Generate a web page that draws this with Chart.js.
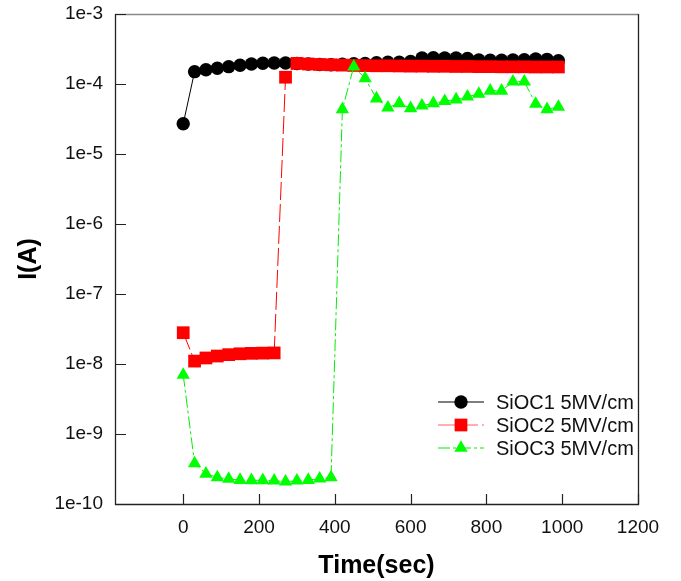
<!DOCTYPE html>
<html>
<head>
<meta charset="utf-8">
<script src="https://cdn.jsdelivr.net/npm/chart.js@4.4.1/dist/chart.umd.min.js"></script>
<style>
html,body{margin:0;padding:0;background:#fff;}
#wrap{width:681px;height:581px;position:relative;}
</style>
</head>
<body>
<div id="wrap"><canvas id="c" width="681" height="581"></canvas></div>
<script>
const times = [0,30,60,90,120,150,180,210,240,270,300,330,360,390,420,450,480,510,540,570,600,630,660,690,720,750,780,810,840,870,900,930,960,990];
const sioc1 = [2.7e-5,1.5e-4,1.6e-4,1.68e-4,1.77e-4,1.85e-4,1.93e-4,1.98e-4,2.0e-4,2.0e-4,1.96e-4,1.93e-4,1.9e-4,1.88e-4,1.92e-4,1.95e-4,1.97e-4,2.02e-4,2.05e-4,2.05e-4,2.1e-4,2.35e-4,2.38e-4,2.35e-4,2.35e-4,2.32e-4,2.2e-4,2.18e-4,2.18e-4,2.2e-4,2.22e-4,2.28e-4,2.25e-4,2.15e-4];
const sioc2 = [2.8e-8,1.1e-8,1.22e-8,1.3e-8,1.36e-8,1.4e-8,1.42e-8,1.43e-8,1.44e-8,1.25e-4,1.97e-4,1.93e-4,1.9e-4,1.88e-4,1.86e-4,1.84e-4,1.83e-4,1.82e-4,1.82e-4,1.81e-4,1.8e-4,1.8e-4,1.79e-4,1.79e-4,1.78e-4,1.78e-4,1.77e-4,1.77e-4,1.76e-4,1.76e-4,1.76e-4,1.75e-4,1.75e-4,1.75e-4];
const sioc3 = [7e-9,3.8e-10,2.7e-10,2.4e-10,2.28e-10,2.2e-10,2.18e-10,2.18e-10,2.15e-10,2.08e-10,2.15e-10,2.2e-10,2.3e-10,2.4e-10,4.35e-5,1.77e-4,1.2e-4,6.2e-5,4.6e-5,5.3e-5,4.5e-5,4.9e-5,5.3e-5,5.7e-5,6.0e-5,6.6e-5,7.2e-5,8.0e-5,8.0e-5,1.08e-4,1.08e-4,5.2e-5,4.35e-5,4.7e-5];
const seriesNames = ["SiOC1 5MV/cm","SiOC2 5MV/cm","SiOC3 5MV/cm"];
const xTicks = [0,200,400,600,800,1000,1200];
const yTicks = [1e-10,1e-9,1e-8,1e-7,1e-6,1e-5,1e-4,1e-3];
const yTickLabels = ["1e-10","1e-9","1e-8","1e-7","1e-6","1e-5","1e-4","1e-3"];
const xTitle = "Time(sec)";
const yTitle = "I(A)";

const FONT = "'Liberation Sans', Arial, sans-serif";
const styles = [
  {color:'#000000', point:'circle', radius:6.7, dash:[]},
  {color:'#ff0000', point:'rect', radius:9, dash:[18,4]},
  {color:'#00ee00', point:'triangle', radius:7.7, dash:[12,3,3,3]}
];
const allSeries = [sioc1, sioc2, sioc3];
const datasets = allSeries.map((s,i)=>({
  label: seriesNames[i],
  data: times.map((t,j)=>({x:t,y:s[j]})),
  borderColor: styles[i].color,
  backgroundColor: styles[i].color,
  pointBackgroundColor: i===2 ? '#00ff00' : styles[i].color,
  pointBorderColor: i===2 ? '#00ff00' : styles[i].color,
  pointBorderWidth: 0,
  pointStyle: styles[i].point,
  pointRadius: styles[i].radius,
  borderWidth: 1,
  borderDash: styles[i].dash,
  tension: 0,
  fill: false,
  order: 3 - i,
  clip: false
}));

const framePlugin = {
  id:'frame',
  afterDraw(chart){
    const ctx = chart.ctx, a = chart.chartArea;
    const xs = chart.scales.x, ys = chart.scales.y;
    ctx.save();
    ctx.lineWidth = 1.3;
    ctx.strokeStyle = '#888888';
    ctx.beginPath(); ctx.moveTo(a.left, a.top+0.5); ctx.lineTo(a.right, a.top+0.5); ctx.stroke();
    ctx.strokeStyle = '#222222';
    ctx.beginPath();
    ctx.moveTo(a.left+0.5, a.top); ctx.lineTo(a.left+0.5, a.bottom+0.5);
    ctx.lineTo(a.right+0.5, a.bottom+0.5); ctx.lineTo(a.right+0.5, a.top);
    ctx.stroke();
    ctx.lineWidth = 1.2;
    ctx.beginPath();
    yTicks.forEach(v=>{ const y = Math.round(ys.getPixelForValue(v))+0.5; ctx.moveTo(a.left, y); ctx.lineTo(a.left+11, y); });
    xTicks.forEach(v=>{ const x = Math.round(xs.getPixelForValue(v))+0.5; ctx.moveTo(x, a.bottom); ctx.lineTo(x, a.bottom-10); });
    ctx.stroke();
    // legend
    const rows = [402, 425, 448];
    rows.forEach((y,i)=>{
      const st = styles[i];
      ctx.save();
      ctx.strokeStyle = i===1 ? '#ff6060' : st.color;
      ctx.lineWidth = 1.2;
      ctx.setLineDash(st.dash);
      ctx.beginPath(); ctx.moveTo(438, y); ctx.lineTo(484, y); ctx.stroke();
      ctx.restore();
      ctx.fillStyle = i===2 ? '#00ff00' : st.color;
      ctx.strokeStyle = ctx.fillStyle;
      Chart.helpers.drawPoint(ctx, {pointStyle: st.point, radius: st.radius, borderWidth: 0}, 461, y);
      ctx.fillStyle = '#111';
      ctx.font = '20px ' + FONT;
      ctx.textAlign = 'left';
      ctx.textBaseline = 'middle';
      ctx.fillText(seriesNames[i], 496, y+1);
    });
    ctx.restore();
  }
};

new Chart(document.getElementById('c'), {
  type:'line',
  data:{datasets},
  options:{
    responsive:false,
    animation:false,
    layout:{padding:{top:14, right:43, left:0, bottom:0}},
    plugins:{legend:{display:false}, tooltip:{enabled:false}},
    scales:{
      x:{
        type:'linear', min:-180, max:1200,
        afterBuildTicks(s){ s.ticks = xTicks.map(v=>({value:v})); },
        afterFit(s){ s.height = 77; s.paddingLeft = 0; s.paddingRight = 0; },
        grid:{display:false, drawTicks:false},
        border:{display:false},
        ticks:{color:'#111', font:{family:FONT, size:19}, padding:12, maxRotation:0, autoSkip:false, callback:(v)=>String(v)},
        title:{display:true, text:xTitle, color:'#000', font:{family:FONT, size:25, weight:'bold'}, padding:{top:6,bottom:0}}
      },
      y:{
        type:'logarithmic', min:1e-10, max:1e-3,
        afterBuildTicks(s){ s.ticks = yTicks.map(v=>({value:v})); },
        afterFit(s){ s.width = 115; s.paddingTop = 0; s.paddingBottom = 0; },
        grid:{display:false, drawTicks:false},
        border:{display:false},
        ticks:{color:'#111', font:{family:FONT, size:19}, padding:12, autoSkip:false,
          callback:(v)=>{ const k = yTicks.findIndex(t=>Math.abs(Math.log10(t)-Math.log10(v))<1e-6); return k>=0 ? yTickLabels[k] : ''; }},
        title:{display:true, text:yTitle, color:'#000', font:{family:FONT, size:25, weight:'bold'}, padding:{top:14,bottom:0}}
      }
    }
  },
  plugins:[framePlugin]
});
</script>
</body>
</html>
